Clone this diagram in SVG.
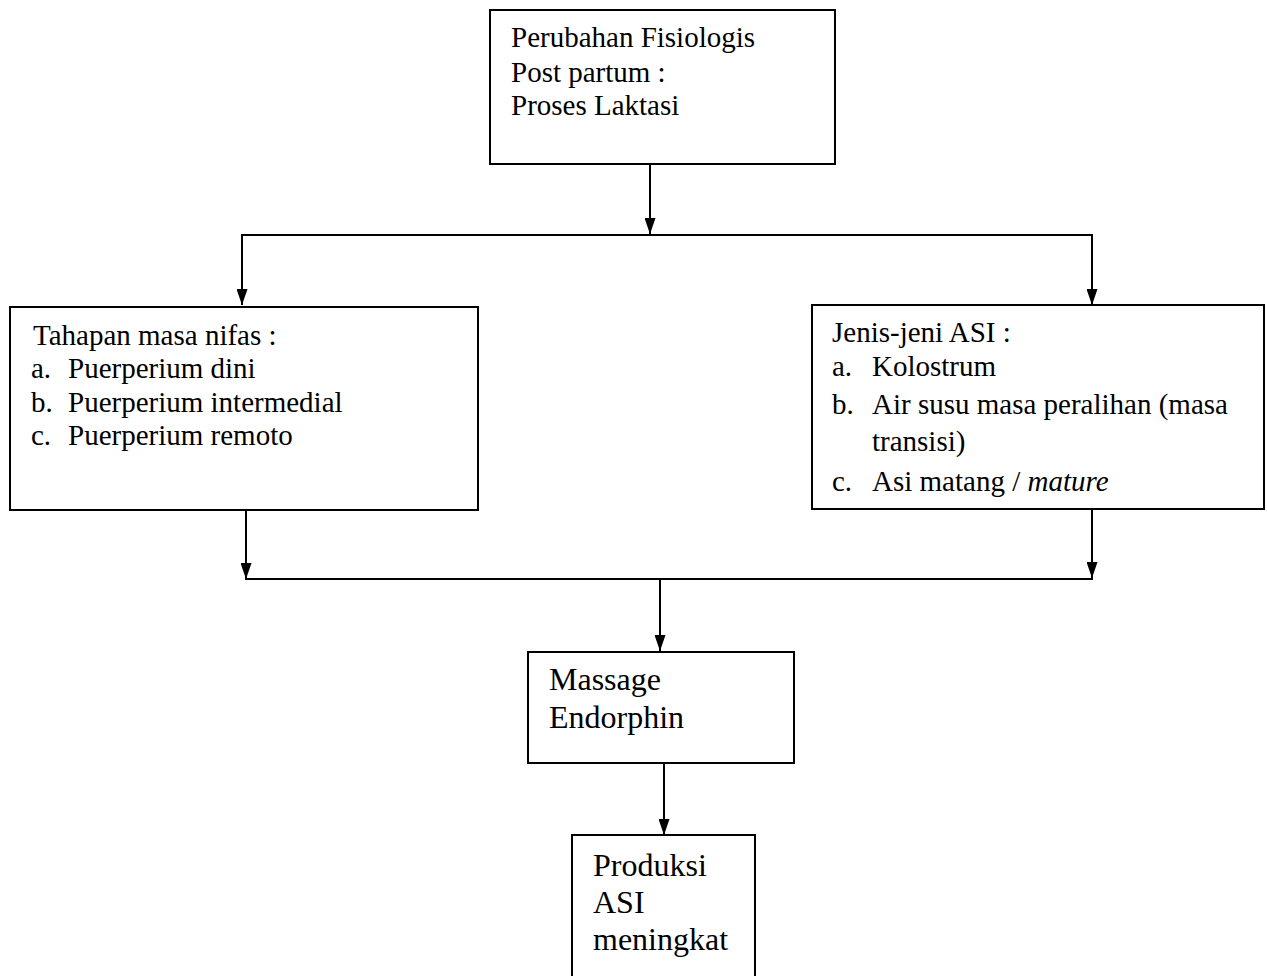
<svg xmlns="http://www.w3.org/2000/svg" width="1267" height="976" viewBox="0 0 1267 976">
<style>
.box{fill:#fff;stroke:#000;stroke-width:2}
.ln{fill:none;stroke:#000;stroke-width:2}
text{font-family:"Liberation Serif","Times New Roman",serif;fill:#000;font-size:29px}
.big{font-size:32px}
</style>
<defs>
<marker id="ah" markerUnits="userSpaceOnUse" markerWidth="16" markerHeight="11" refX="16" refY="5.5" orient="auto" viewBox="0 0 16 11">
<path d="M0,0 L16,5.5 L0,11 z" fill="#000"/>
</marker>
</defs>
<rect width="1267" height="976" fill="#fff"/>
<g id="connectors">
<line class="ln" x1="650" y1="164" x2="650" y2="234" marker-end="url(#ah)"/>
<polyline class="ln" points="242,305 242,235 1092,235 1092,305" fill="none"/>
<line class="ln" x1="242" y1="240" x2="242" y2="305" marker-end="url(#ah)"/>
<line class="ln" x1="1092" y1="240" x2="1092" y2="305" marker-end="url(#ah)"/>
<line class="ln" x1="246" y1="510" x2="246" y2="579" marker-end="url(#ah)"/>
<line class="ln" x1="1092" y1="509" x2="1092" y2="578" marker-end="url(#ah)"/>
<line class="ln" x1="245" y1="579" x2="1093" y2="579"/>
<line class="ln" x1="660" y1="579" x2="660" y2="651" marker-end="url(#ah)"/>
<line class="ln" x1="664" y1="763" x2="664" y2="835" marker-end="url(#ah)"/>
</g>
<g id="node-top">
<rect class="box" x="490" y="10" width="345" height="154"/>
<text x="511" y="47">Perubahan Fisiologis</text>
<text x="511" y="82">Post partum :</text>
<text x="511" y="115">Proses Laktasi</text>
</g>
<g id="node-left">
<rect class="box" x="10" y="307" width="468" height="203"/>
<text x="33" y="345">Tahapan masa nifas :</text>
<text x="31" y="378">a.</text><text x="68" y="378">Puerperium dini</text>
<text x="31" y="412">b.</text><text x="68" y="412">Puerperium intermedial</text>
<text x="31" y="445">c.</text><text x="68" y="445">Puerperium remoto</text>
</g>
<g id="node-right">
<rect class="box" x="812" y="305" width="452" height="204"/>
<text x="832" y="342">Jenis-jeni ASI :</text>
<text x="832" y="376">a.</text><text x="872" y="376">Kolostrum</text>
<text x="832" y="414">b.</text><text x="872" y="414">Air susu masa peralihan (masa</text>
<text x="872" y="451">transisi)</text>
<text x="832" y="491">c.</text><text x="872" y="491">Asi matang / <tspan font-style="italic">mature</tspan></text>
</g>
<g id="node-massage">
<rect class="box" x="528" y="652" width="266" height="111"/>
<text class="big" x="549" y="690">Massage</text>
<text class="big" x="549" y="728">Endorphin</text>
</g>
<g id="node-produksi">
<rect class="box" x="572" y="835" width="183" height="160"/>
<text class="big" x="593" y="876">Produksi</text>
<text class="big" x="593" y="913">ASI</text>
<text class="big" x="593" y="950">meningkat</text>
</g>
</svg>
